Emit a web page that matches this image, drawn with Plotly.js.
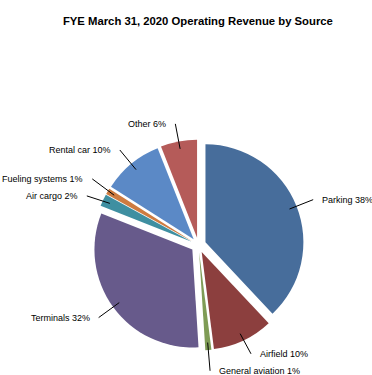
<!DOCTYPE html>
<html>
<head>
<meta charset="utf-8">
<script src="https://cdn.plot.ly/plotly-3.0.1.min.js"></script>
<style>html,body{margin:0;padding:0;background:#fff;}#chart{width:372px;height:375px;}</style>
</head>
<body>
<div id="chart"></div>
<script>
const labels = ['Parking', 'Airfield', 'General aviation', 'Terminals', 'Air cargo', 'Fueling systems', 'Rental car', 'Other'];
const values = [38, 10, 1, 32, 2, 1, 10, 6];
const colors = ['#476D9B', '#8C3F3E', '#7F9C56', '#675A8B', '#3F8FA1', '#CE7B40', '#5B89C6', '#B55B59'];

const W = 372, H = 375;
const pull = 0.077;
const domX = [0.25, 0.817];
const domY = [0.065, 0.628];

// geometry derived from domain (same as plotly's pie sizing)
const cx = (domX[0] + domX[1]) / 2 * W;
const cy = (1 - (domY[0] + domY[1]) / 2) * H;
const half = Math.min((domX[1] - domX[0]) * W, (domY[1] - domY[0]) * H) / 2;
const R = half / (1 + pull);

const total = values.reduce((a, b) => a + b, 0);
const items = [];
let cum = 0;
values.forEach((v, i) => {
  const mid = (cum + v / 2) / total * 2 * Math.PI;
  cum += v;
  const sx = Math.sin(mid), sy = -Math.cos(mid);
  items.push({
    i: i, right: sx >= 0,
    hx: cx + sx * R * 1.0, hy: cy + sy * R * 1.0,
    tx: cx + sx * R * 1.26, ty: cy + sy * R * 1.26
  });
});

// spread labels on each side so they do not overlap
const minGap = 17;
[true, false].forEach(side => {
  const group = items.filter(d => d.right === side).sort((a, b) => a.ty - b.ty);
  for (let k = 1; k < group.length; k++) {
    const a = group[k - 1], b = group[k];
    if (b.ty - a.ty < minGap) {
      const m = (a.ty + b.ty) / 2;
      a.ty = m - minGap / 2;
      b.ty = m + minGap / 2;
    }
  }
});

const shapes = [];
const annotations = [];
items.forEach(d => {
  shapes.push({
    type: 'line', xref: 'paper', yref: 'paper',
    x0: d.hx / W, y0: 1 - d.hy / H, x1: d.tx / W, y1: 1 - d.ty / H,
    line: {color: '#000000', width: 1}
  });
  annotations.push({
    xref: 'paper', yref: 'paper',
    x: (d.tx + (d.right ? 7 : -7)) / W, y: 1 - d.ty / H,
    xanchor: d.right ? 'left' : 'right', yanchor: 'middle',
    text: labels[d.i] + ' ' + values[d.i] + '%',
    showarrow: false,
    font: {family: 'Liberation Sans, Arial, sans-serif', size: 9, color: '#000000'}
  });
});

const data = [{
  type: 'pie',
  labels: labels,
  values: values,
  sort: false,
  direction: 'clockwise',
  rotation: 0,
  pull: values.map(() => pull),
  marker: {colors: colors, line: {width: 0}},
  textinfo: 'none',
  hoverinfo: 'none',
  showlegend: false,
  domain: {x: domX, y: domY}
}];

const layout = {
  width: W, height: H,
  margin: {l: 0, r: 0, t: 0, b: 0},
  paper_bgcolor: '#ffffff',
  showlegend: false,
  title: {
    text: 'FYE March 31, 2020 Operating Revenue by Source',
    font: {family: 'Liberation Sans, Arial, sans-serif', size: 11.3, color: '#000000', weight: 'bold'},
    x: 0.532, xanchor: 'center', xref: 'paper',
    y: 1 - 21 / H, yanchor: 'middle', yref: 'container'
  },
  shapes: shapes,
  annotations: annotations
};

Plotly.newPlot('chart', data, layout, {staticPlot: true, displayModeBar: false});
</script>
</body>
</html>
